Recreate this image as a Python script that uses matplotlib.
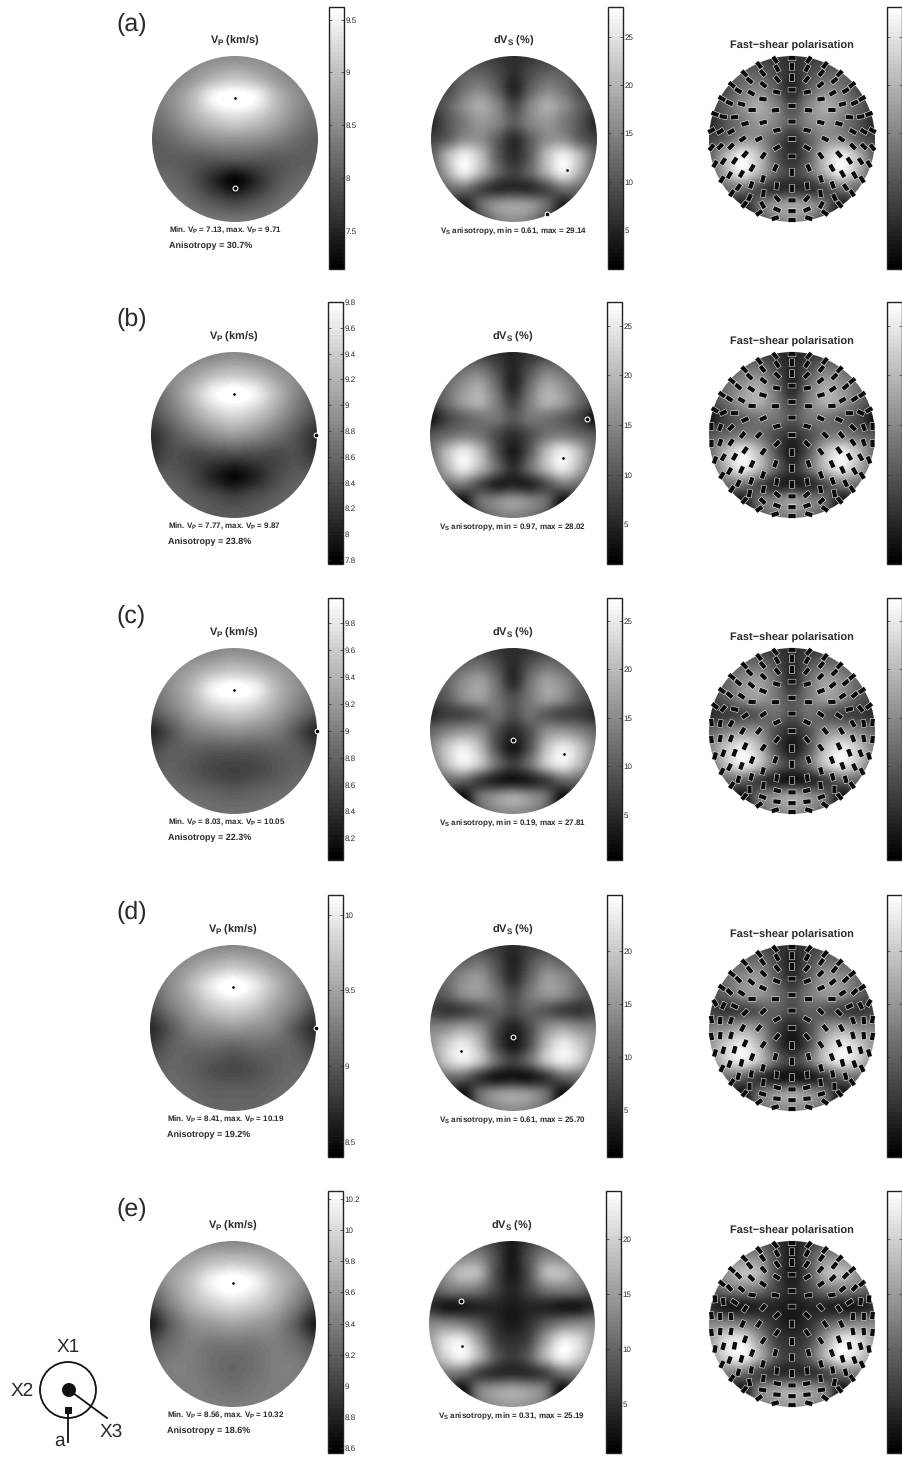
import numpy as np
import matplotlib
matplotlib.use('Agg')
import matplotlib.pyplot as plt
from matplotlib.cm import ScalarMappable
from matplotlib.collections import LineCollection
from matplotlib.colors import Normalize
from matplotlib.patches import Circle, Rectangle

plt.rcParams['font.family'] = ['Liberation Sans', 'DejaVu Sans']
plt.rcParams['mathtext.fontset'] = 'custom'
plt.rcParams['mathtext.bf'] = 'Liberation Sans:bold'
plt.rcParams['mathtext.rm'] = 'Liberation Sans:bold'
plt.rcParams['text.hinting'] = 'no_hinting'
plt.rcParams['text.hinting_factor'] = 1

W, H = 902, 1457

labels = ['(a)', '(b)', '(c)', '(d)', '(e)']
vp_min = [7.13, 7.77, 8.03, 8.41, 8.56]
vp_max = [9.71, 9.87, 10.05, 10.19, 10.32]
aniso_p = [30.7, 23.8, 22.3, 19.2, 18.6]
vs_min = [0.61, 0.97, 0.19, 0.61, 0.31]
vs_max = [29.14, 28.02, 27.81, 25.70, 25.19]

# colour limits of the bars
vp_lims = [(7.14, 9.62), (7.77, 9.80), (8.04, 9.985), (8.40, 10.13), (8.57, 10.25)]
vs_lims = [(.95, 28.1), (1.0, 27.4), (.35, 27.36), (.6, 25.25), (.5, 24.4)]

vp_ticks = [[7.5, 8, 8.5, 9, 9.5],
            [7.8, 8, 8.2, 8.4, 8.6, 8.8, 9, 9.2, 9.4, 9.6, 9.8],
            [8.2, 8.4, 8.6, 8.8, 9, 9.2, 9.4, 9.6, 9.8],
            [8.5, 9, 9.5, 10],
            [8.6, 8.8, 9, 9.2, 9.4, 9.6, 9.8, 10, 10.2]]
vs_ticks = [[5, 10, 15, 20, 25], [5, 10, 15, 20, 25], [5, 10, 15, 20, 25],
            [5, 10, 15, 20], [5, 10, 15, 20]]

# left half of each disc, top row first
vp_a = [[8.45, 8.45, 8.45, 8.5, 8.5],
        [8.3, 8.4, 8.6, 8.85, 9.0],
        [8.3, 8.55, 8.95, 9.55, 9.71],
        [8.2, 8.45, 8.8, 9.1, 9.25],
        [8.05, 8.2, 8.4, 8.55, 8.6],
        [8.05, 8.05, 8.0, 8.0, 8.0],
        [8.2, 8.15, 7.95, 7.55, 7.2],
        [8.3, 8.3, 8.15, 7.95, 7.8],
        [8.4, 8.4, 8.35, 8.3, 8.3]]
vp_b = [[8.7, 8.7, 8.75, 8.8, 8.85],
        [8.7, 8.85, 9.0, 9.2, 9.3],
        [8.55, 8.85, 9.25, 9.7, 9.87],
        [8.4, 8.7, 9.05, 9.35, 9.5],
        [8.15, 8.45, 8.7, 8.9, 9.0],
        [8.2, 8.4, 8.35, 8.35, 8.35],
        [8.5, 8.5, 8.35, 8.05, 7.85],
        [8.6, 8.6, 8.5, 8.4, 8.3],
        [8.6, 8.6, 8.6, 8.5, 8.5]]
vp_c = [[9.0, 9.0, 9.0, 9.05, 9.1],
        [9.0, 9.1, 9.25, 9.4, 9.5],
        [8.9, 9.15, 9.45, 9.9, 10.05],
        [8.75, 9.0, 9.3, 9.55, 9.65],
        [8.35, 8.7, 9.0, 9.1, 9.15],
        [8.6, 8.75, 8.75, 8.7, 8.7],
        [8.8, 8.8, 8.7, 8.6, 8.55],
        [8.95, 8.9, 8.85, 8.8, 8.75],
        [9.0, 9.0, 8.95, 8.9, 8.9]]
vp_d = [[9.25, 9.25, 9.25, 9.3, 9.3],
        [9.25, 9.3, 9.45, 9.6, 9.7],
        [9.15, 9.35, 9.65, 10.0, 10.19],
        [8.95, 9.25, 9.5, 9.75, 9.85],
        [8.7, 9.0, 9.3, 9.4, 9.45],
        [8.85, 9.05, 9.1, 9.1, 9.05],
        [9.05, 9.1, 9.05, 8.95, 8.9],
        [9.15, 9.15, 9.1, 9.05, 9.05],
        [9.2, 9.2, 9.15, 9.1, 9.1]]
vp_e = [[9.45, 9.45, 9.45, 9.45, 9.45],
        [9.45, 9.55, 9.65, 9.8, 9.85],
        [9.35, 9.6, 9.85, 10.18, 10.32],
        [9.1, 9.45, 9.75, 9.95, 10.05],
        [8.75, 9.2, 9.5, 9.6, 9.65],
        [9.1, 9.3, 9.4, 9.35, 9.35],
        [9.3, 9.4, 9.4, 9.3, 9.25],
        [9.4, 9.4, 9.4, 9.35, 9.3],
        [9.4, 9.4, 9.4, 9.4, 9.4]]

vs_a = [[7, 7, 8, 8, 7, 6],
        [8, 9, 11, 11, 9, 6],
        [8, 9, 13, 15, 11, 5],
        [8, 11, 16, 19, 15, 9],
        [5, 10, 14, 17, 15, 11],
        [8, 11, 16, 16, 11, 6],
        [11, 20, 26, 21, 11, 6],
        [10, 19, 26, 20, 12, 8],
        [10, 12, 13, 9, 6, 6],
        [9, 8, 4, 12, 17, 18],
        [6, 5, 3, 8, 14, 16]]
vs_b = [[6, 6, 7, 7, 6, 5],
        [8, 9, 12, 13, 9, 5],
        [9, 12, 16, 18, 12, 5],
        [8, 12, 17, 19, 14, 8],
        [3, 8, 11, 13, 13, 10],
        [10, 12, 14, 13, 9, 6],
        [12, 20, 25, 20, 10, 4],
        [11, 19, 25, 20, 12, 6],
        [9, 12, 13, 9, 5, 5],
        [7, 6, 3, 12, 15, 17],
        [5, 4, 3, 9, 13, 14]]
vs_c = [[6, 6, 7, 7, 6, 5],
        [8, 9, 11, 12, 9, 5],
        [9, 11, 15, 17, 12, 5],
        [8, 10, 15, 17, 13, 9],
        [5, 7, 8, 10, 12, 9],
        [11, 14, 16, 15, 9, 5],
        [14, 21, 25, 20, 9, 3],
        [12, 20, 25, 21, 12, 7],
        [9, 11, 11, 7, 4, 3],
        [7, 6, 2, 12, 16, 18],
        [5, 4, 3, 10, 14, 15]]
vs_d = [[6, 6, 7, 7, 6, 5],
        [8, 9, 10, 11, 8, 4],
        [9, 11, 14, 15, 10, 5],
        [8, 10, 14, 15, 12, 8],
        [7, 6, 7, 9, 10, 8],
        [13, 14, 16, 14, 8, 4],
        [15, 20, 23, 18, 8, 3],
        [13, 20, 23, 19, 11, 7],
        [10, 11, 10, 6, 3, 3],
        [7, 6, 2, 11, 15, 16],
        [5, 4, 3, 10, 13, 14]]
vs_e = [[7, 7, 8, 8, 6, 3],
        [9, 11, 13, 13, 8, 3],
        [11, 14, 18, 17, 8, 3],
        [8, 11, 12, 11, 7, 4],
        [5, 3, 3, 4, 4, 3],
        [13, 13, 12, 9, 5, 3],
        [15, 21, 22, 15, 7, 5],
        [14, 20, 23, 17, 9, 6],
        [11, 12, 11, 7, 5, 5],
        [9, 6, 2, 12, 15, 16],
        [6, 4, 3, 11, 14, 15]]
vp_fields = [vp_a, vp_b, vp_c, vp_d, vp_e]
vs_fields = [vs_a, vs_b, vs_c, vs_d, vs_e]

# fastest / slowest direction on each disc
vp_max_xy = [(0, .5), (0, .5), (0, .49), (0, .49), (0, .5)]
vp_min_xy = [(0, -.59), (.99, 0), (1, 0), (1, 0), None]
vs_max_xy = [(.64, -.37), (.6, -.28), (.61, -.28), (-.63, -.28), (-.6, -.27)]
vs_min_xy = [(.4, -.9), (.89, .19), (0, -.11), (0, -.11), (-.61, .28)]

# polarisation sticks: ring radius, then stick angle along the right half of each ring
ring_r = [.21, .40, .595, .74, .87, .975]
pol_centre = [0, 0, 0, 0, 90]
pol_a = [[0, -12, -30, 0],
         [0, -5, -15, -25, -55, -65, 90],
         [0, 12, 8, 0, -15, -35, -50, -60, -75, -85, 90],
         [90, 50, 40, 30, 15, -5, -30, -45, -55, -60, -70, -85, 50, 0],
         [90, 60, 50, 40, 30, 25, 10, -30, -45, -55, -60, -55, -65, 60, 25, 0],
         [0, 55, 50, 45, 40, 30, 20, -30, -50, -60, -60, -55, -50, -35, -15, 0]]
pol_b = [[0, -15, -45, 90],
         [0, 0, -25, -45, -55, -70, 90],
         [0, 10, 15, 5, -25, -50, -55, -65, -70, -80, 90],
         [90, 45, 40, 35, 30, 0, -45, -55, -60, -65, -70, -80, 40, 0],
         [90, 55, 50, 45, 40, 35, -25, -70, -70, -60, -60, -65, -80, 45, 20, 0],
         [0, 50, 50, 45, 40, 35, 30, 90, 90, -70, -60, -55, -50, -35, -15, 0]]
pol_c = [[0, -25, -50, 90],
         [0, 0, -35, -50, -55, -70, 90],
         [0, 15, 20, 5, -35, -60, -65, -70, -75, -80, 90],
         [90, 50, 45, 40, 35, 15, -60, -70, -70, -70, -75, -85, 15, 0],
         [90, 60, 50, 45, 40, 40, -50, -80, -80, -70, -65, -75, 90, 20, 5, 0],
         [0, 50, 50, 45, 40, 35, 40, 85, 85, -75, -65, -55, -50, -35, -15, 0]]
pol_d = [[0, -30, -50, 90],
         [0, 0, -45, -50, -55, -75, 90],
         [0, 20, 25, 0, -45, -60, -65, -70, -75, -85, 90],
         [90, 50, 45, 40, 35, 25, -70, -75, -75, -75, -80, -85, 15, 0],
         [90, 60, 55, 50, 45, 45, -65, -85, -85, -75, -70, -75, 90, 15, 5, 0],
         [0, 50, 50, 45, 40, 35, 60, 80, 80, -75, -65, -55, -50, -35, -15, 0]]
pol_e = [[0, -45, -55, 90],
         [0, 10, -50, -55, -55, -75, 90],
         [0, 30, 35, 10, -55, -65, -70, -70, -75, -85, 90],
         [90, 55, 50, 45, 40, 35, 85, -80, -80, -75, -80, -85, 10, 0],
         [90, 60, 55, 50, 45, 50, 85, 90, -85, -75, -70, -75, 80, 10, 5, 0],
         [0, 50, 50, 45, 40, 40, 85, 85, 85, -80, -65, -55, -50, -35, -15, 0]]
pol_angles = [pol_a, pol_b, pol_c, pol_d, pol_e]

# layout in picture pixels
disc_top = [56, 352, 648, 945, 1241]
bar_top = [7, 302, 598, 895, 1191]
vp_x = [235, 234, 234, 233, 233]
vs_x = [514, 513, 513, 513, 512]
pol_x = [792, 792, 792, 792, 792]
vp_bar_x = [329, 328, 328, 328, 328]
vs_bar_x = [608, 607, 607, 607, 606]
label_y = [24, 319, 616, 912, 1209]
R = 83
BAR_W, BAR_H = 15, 262
TEXT = '#2a2a2a'

gray = plt.get_cmap('gray', 64)


def add_px_axes(fig, x0, y0, w, h):
    return fig.add_axes([x0 / W, 1 - (y0 + h) / H, w / W, h / H])


def mirrored(half):
    half = np.array(half, dtype=float)
    return np.hstack([half, half[:, -2::-1]])


def draw_disc(fig, cx, top, field, lims):
    ax = add_px_axes(fig, cx - R, top, 2 * R, 2 * R)
    grid = mirrored(field)
    hx = 1 / (grid.shape[1] - 1)
    hy = 1 / (grid.shape[0] - 1)
    im = ax.imshow(grid, cmap=gray, vmin=lims[0], vmax=lims[1], interpolation='catrom',
                   interpolation_stage='data', aspect='auto',
                   extent=[-1 - hx, 1 + hx, -1 - hy, 1 + hy])
    ax.set_xlim(-1, 1)
    ax.set_ylim(-1, 1)
    im.set_clip_path(Circle((0, 0), 1, transform=ax.transData))
    ax.axis('off')
    return ax


def draw_bar(fig, x0, top, lims, ticks, show_labels=True):
    cax = add_px_axes(fig, x0, top, BAR_W, BAR_H)
    cb = fig.colorbar(ScalarMappable(Normalize(*lims), gray), cax=cax)
    cb.set_ticks(ticks)
    cb.set_ticklabels(['%g' % t for t in ticks] if show_labels else [])
    cb.minorticks_off()
    cax.tick_params(direction='in', length=2, width=.5, left=True, right=True,
                    labelsize=5.6, pad=1, labelcolor=TEXT, color='#333333')
    cb.outline.set_linewidth(1.0)
    cb.outline.set_edgecolor('#222222')


def draw_sticks(ax, centre, rings):
    segs = []
    seg_hi = []
    pts = [(0.0, 0.0, centre)]
    for r, angs in zip(ring_r, rings):
        n = 2 * (len(angs) - 1)
        for k, a in enumerate(angs):
            az = np.radians(360.0 * k / n)
            x, y = r * np.sin(az), r * np.cos(az)
            pts.append((x, y, a))
            if 0 < k < len(angs) - 1:
                pts.append((-x, y, -a))
    for x, y, a in pts:
        dx, dy = np.cos(np.radians(a)), np.sin(np.radians(a))
        segs.append([(x - .045 * dx, y - .045 * dy), (x + .045 * dx, y + .045 * dy)])
        seg_hi.append([(x - .05 * dx, y - .05 * dy), (x + .05 * dx, y + .05 * dy)])
    halo = LineCollection(seg_hi, colors='white', linewidths=3.8, capstyle='butt',
                          clip_on=False, zorder=3)
    core = LineCollection(segs, colors='#0c0c0c', linewidths=3.1, capstyle='butt',
                          clip_on=False, zorder=4)
    halo.set_snap(False)
    core.set_snap(False)
    ax.add_collection(halo)
    ax.add_collection(core)


def mark_extremes(ax, hi, lo):
    ax.plot(*hi, 'o', ms=1.9, color='black', mec='none', clip_on=False, zorder=5)
    if lo is not None:
        ax.plot(*lo, 'o', ms=3.4, mfc='black', mec='white', mew=.8, clip_on=False, zorder=5)


fig = plt.figure(figsize=(W / 100, H / 100), dpi=100)

for i in range(5):
    top = disc_top[i]

    ax = draw_disc(fig, vp_x[i], top, vp_fields[i], vp_lims[i])
    mark_extremes(ax, vp_max_xy[i], vp_min_xy[i])
    draw_bar(fig, vp_bar_x[i], bar_top[i], vp_lims[i], vp_ticks[i])

    ax = draw_disc(fig, vs_x[i], top, vs_fields[i], vs_lims[i])
    mark_extremes(ax, vs_max_xy[i], vs_min_xy[i])
    draw_bar(fig, vs_bar_x[i], bar_top[i], vs_lims[i], vs_ticks[i])

    ax = draw_disc(fig, pol_x[i], top, vs_fields[i], vs_lims[i])
    draw_sticks(ax, pol_centre[i], pol_angles[i])
    draw_bar(fig, 887, bar_top[i], vs_lims[i], vs_ticks[i], show_labels=False)

# overlay in pixel coordinates for all the text and the little key
ov = fig.add_axes([0, 0, 1, 1], zorder=10)
ov.set_xlim(0, W)
ov.set_ylim(H, 0)
ov.axis('off')
ov.patch.set_alpha(0)

for i in range(5):
    top = disc_top[i]
    ov.text(116, label_y[i], labels[i], fontsize=18, color=TEXT, ha='left', va='center')
    ov.text(vp_x[i], top - 15, r'$\mathbf{V_P}$ (km/s)', fontsize=8.1, fontweight='bold',
            color=TEXT, ha='center', va='center')
    ov.text(vs_x[i], top - 15, r'd$\mathbf{V_S}$ (%)', fontsize=8.2, fontweight='bold',
            color=TEXT, ha='center', va='center')
    ov.text(pol_x[i], top - 10, 'Fast\u2212shear polarisation', fontsize=8.2, fontweight='bold',
            color=TEXT, ha='center', va='center')
    ov.text(vp_x[i] - 66, top + 174,
            r'Min. $\mathbf{V_P}$ = %.2f, max. $\mathbf{V_P}$ = %.2f' % (vp_min[i], vp_max[i]),
            fontsize=6.1, fontweight='bold', color=TEXT, ha='left', va='center')
    ov.text(vp_x[i] - 66, top + 190, 'Anisotropy = %.1f%%' % aniso_p[i],
            fontsize=6.2, fontweight='bold', color=TEXT, ha='left', va='center')
    ov.text(vs_x[i], top + 175,
            r'$\mathbf{V_S}$ anisotropy, min = %.2f, max = %.2f' % (vs_min[i], vs_max[i]),
            fontsize=5.7, fontweight='bold', color=TEXT, ha='center', va='center')

# axes key, bottom left
ov.add_patch(Circle((68, 1390), 28, fc='none', ec='#111111', lw=1.3))
ov.add_patch(Circle((69, 1390), 7, fc='#111111', ec='none'))
ov.add_patch(Rectangle((65, 1407), 7, 7, fc='#111111', ec='none'))
ov.plot([68, 68], [1410, 1442], color='#111111', lw=1.3)
ov.plot([69, 107], [1390, 1418], color='#111111', lw=1.3)
ov.text(68, 1347, 'X1', fontsize=13.5, color=TEXT, ha='center', va='center')
ov.text(22, 1391, 'X2', fontsize=13.5, color=TEXT, ha='center', va='center')
ov.text(111, 1432, 'X3', fontsize=13.5, color=TEXT, ha='center', va='center')
ov.text(59, 1441, 'a', fontsize=13.5, color=TEXT, ha='center', va='center')

fig.savefig('out.png', dpi=100)
